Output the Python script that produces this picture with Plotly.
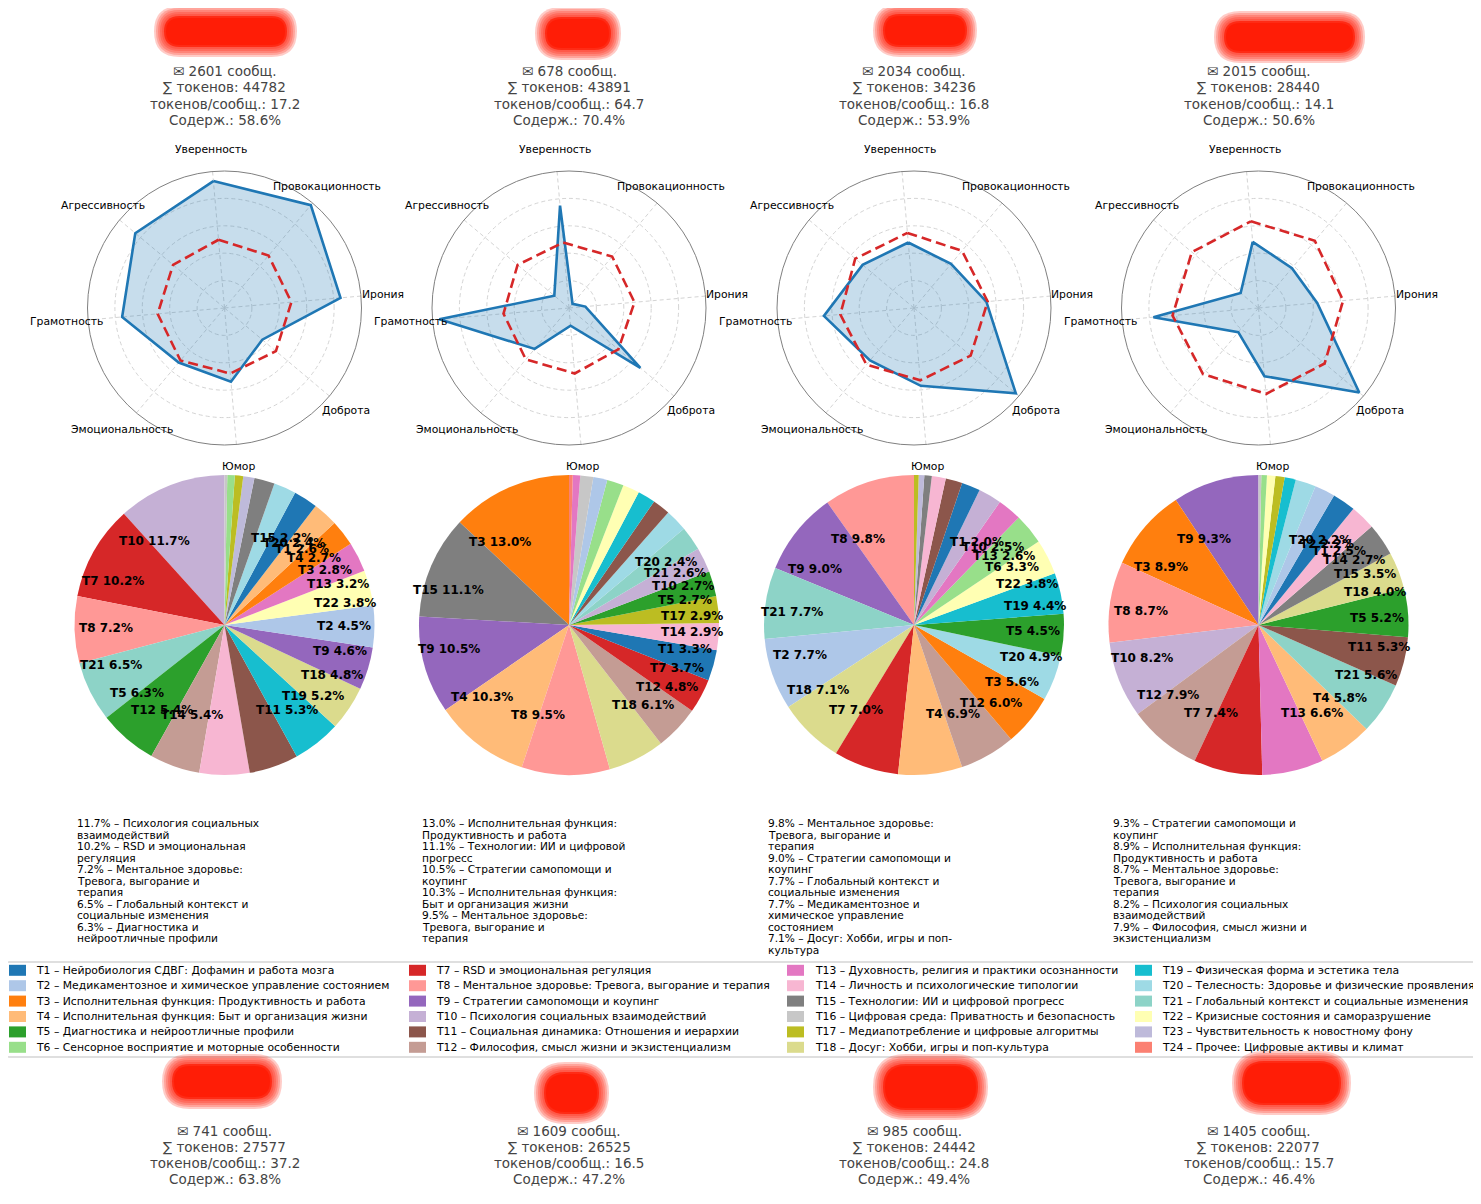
import math
import textwrap

import plotly.graph_objects as go

W, H = 1481, 1204
# the page body adds an 8px margin; the pixel axes below absorb it
OX, OY = 8, 8
FONT = 'DejaVu Sans'

# ---- data -----------------------------------------------------------------

AXES = ['Уверенность', 'Провокационность', 'Ирония', 'Доброта',
        'Юмор', 'Эмоциональность', 'Грамотность', 'Агрессивность']

TOPIC_NAMES = [
    'Нейробиология СДВГ: Дофамин и работа мозга',
    'Медикаментозное и химическое управление состоянием',
    'Исполнительная функция: Продуктивность и работа',
    'Исполнительная функция: Быт и организация жизни',
    'Диагностика и нейроотличные профили',
    'Сенсорное восприятие и моторные особенности',
    'RSD и эмоциональная регуляция',
    'Ментальное здоровье: Тревога, выгорание и терапия',
    'Стратегии самопомощи и коупинг',
    'Психология социальных взаимодействий',
    'Социальная динамика: Отношения и иерархии',
    'Философия, смысл жизни и экзистенциализм',
    'Духовность, религия и практики осознанности',
    'Личность и психологические типологии',
    'Технологии: ИИ и цифровой прогресс',
    'Цифровая среда: Приватность и безопасность',
    'Медиапотребление и цифровые алгоритмы',
    'Досуг: Хобби, игры и поп-культура',
    'Физическая форма и эстетика тела',
    'Телесность: Здоровье и физические проявления',
    'Глобальный контекст и социальные изменения',
    'Кризисные состояния и саморазрушение',
    'Чувствительность к новостному фону',
    'Прочее: Цифровые активы и климат',
]

TOPIC_COLORS = [
    '#1f77b4', '#aec7e8', '#ff7f0e', '#ffbb78', '#2ca02c', '#98df8a',
    '#d62728', '#ff9896', '#9467bd', '#c5b0d5', '#8c564b', '#c49c94',
    '#e377c2', '#f7b6d2', '#7f7f7f', '#c7c7c7', '#bcbd22', '#dbdb8d',
    '#17becf', '#9edae5', '#8dd3c7', '#ffffb3', '#bebada', '#fb8072',
]

msgs_top = [2601, 678, 2034, 2015]
tokens_top = [44782, 43891, 34236, 28440]
content_top = [58.6, 70.4, 53.9, 50.6]

msgs_bottom = [741, 1609, 985, 1405]
tokens_bottom = [27577, 26525, 24442, 22077]
content_bottom = [63.8, 47.2, 49.4, 46.4]

radar_user_1 = [0.93, 0.98, 0.85, 0.36, 0.54, 0.52, 0.75, 0.85]
radar_avg_1 = [0.50, 0.50, 0.49, 0.49, 0.48, 0.50, 0.49, 0.49]
radar_user_2 = [0.75, 0.04, 0.12, 0.68, 0.13, 0.39, 0.95, 0.14]
radar_avg_2 = [0.48, 0.49, 0.48, 0.47, 0.48, 0.49, 0.48, 0.49]
radar_user_3 = [0.48, 0.42, 0.53, 0.97, 0.57, 0.50, 0.66, 0.49]
radar_avg_3 = [0.55, 0.545, 0.54, 0.54, 0.53, 0.54, 0.54, 0.56]
radar_user_4 = [0.485, 0.38, 0.43, 0.96, 0.50, 0.23, 0.77, 0.17]
radar_avg_4 = [0.635, 0.64, 0.62, 0.63, 0.63, 0.63, 0.63, 0.635]

pie_topics_1 = [10, 7, 8, 21, 5, 12, 14, 11, 19, 18, 9, 2, 22, 13, 3, 4, 1,
                20, 15, 23, 17, 6, 16]
pie_shares_1 = [11.7, 10.2, 7.2, 6.5, 6.3, 5.4, 5.4, 5.3, 5.2, 4.8, 4.6, 4.5,
                3.8, 3.2, 2.8, 2.7, 2.6, 2.4, 2.2, 1.2, 0.9, 0.8, 0.3]
pie_topics_2 = [3, 15, 9, 4, 8, 18, 12, 7, 1, 14, 17, 5, 10, 21, 20, 11, 19,
                22, 6, 2, 16, 13, 24]
pie_shares_2 = [13.0, 11.1, 10.5, 10.3, 9.5, 6.1, 4.8, 3.7, 3.3, 2.9, 2.9, 2.7,
                2.7, 2.6, 2.4, 1.9, 1.9, 1.8, 1.8, 1.5, 1.4, 0.8, 0.4]
pie_topics_3 = [8, 9, 21, 2, 18, 7, 4, 12, 3, 20, 5, 19, 22, 6, 13, 10, 1, 11,
                14, 15, 23, 17]
pie_shares_3 = [9.8, 9.0, 7.7, 7.7, 7.1, 7.0, 6.9, 6.0, 5.6, 4.9, 4.5, 4.4,
                3.8, 3.3, 2.6, 2.5, 2.0, 1.8, 1.5, 0.8, 0.6, 0.5]
pie_topics_4 = [9, 3, 8, 10, 12, 7, 13, 4, 21, 11, 5, 18, 15, 14, 1, 2, 20, 19,
                17, 22, 6, 16]
pie_shares_4 = [9.3, 8.9, 8.7, 8.2, 7.9, 7.4, 6.6, 5.8, 5.6, 5.3, 5.2, 4.0,
                3.5, 2.7, 2.5, 2.2, 2.2, 1.2, 1.0, 0.9, 0.6, 0.3]

radars = [(radar_user_1, radar_avg_1), (radar_user_2, radar_avg_2),
          (radar_user_3, radar_avg_3), (radar_user_4, radar_avg_4)]
pies = [(pie_topics_1, pie_shares_1), (pie_topics_2, pie_shares_2),
        (pie_topics_3, pie_shares_3), (pie_topics_4, pie_shares_4)]

# ---- layout constants (pixels) --------------------------------------------

COL_CX = [224.5, 569, 914, 1258.5]
RADAR_CY, RADAR_R = 308, 137
RADAR_ROT = 95          # angle of the first axis, degrees
PIE_CY, PIE_R = 625, 150
LIST_X = [76, 421, 767, 1112]

fig = go.Figure()
annotations = []
shapes = []
layout = {}


def dom_x(a, b):
    return [(a - OX) / W, (b - OX) / W]


def dom_y(top, bottom):
    return [1 - (bottom - OY) / H, 1 - (top - OY) / H]


def text(x, y, s, size, color='black', anchor='center'):
    annotations.append(dict(
        x=x, y=y, xref='x', yref='y', text=s, showarrow=False,
        xanchor=anchor, yanchor='middle',
        font=dict(family=FONT, size=size, color=color)))


def stats_block(cx, y0, m, t, c):
    lines = [f'✉ {m} сообщ.', f'∑ токенов: {t}',
             f'токенов/сообщ.: {t / m:.1f}', f'Содерж.: {c:.1f}%']
    for k, s in enumerate(lines):
        text(cx, y0 + k * 16.3, s, 13.5, '#444444')


def rounded(a0, b0, a1, b1, r):
    return (f'M{a0 + r},{b0} L{a1 - r},{b0} Q{a1},{b0} {a1},{b0 + r} '
            f'L{a1},{b1 - r} Q{a1},{b1} {a1 - r},{b1} L{a0 + r},{b1} '
            f'Q{a0},{b1} {a0},{b1 - r} L{a0},{b0 + r} '
            f'Q{a0},{b0} {a0 + r},{b0} Z')


def blob(x0, y0, x1, y1):
    # soft redaction blot over the user name
    for pad in (10, 8, 6, 4, 2, 0, -2):
        a0, b0, a1, b1 = x0 - pad, y0 - pad, x1 + pad, y1 + pad
        r = (b1 - b0) / 2
        shapes.append(dict(type='path', path=rounded(a0, b0, a1, b1, r),
                           xref='x', yref='y', fillcolor='#ff1800',
                           opacity=0.22 if pad > 0 else 0.7,
                           line=dict(width=0)))


for i in range(4):
    cx = COL_CX[i]

    # radar
    user, avg = radars[i]
    pid = 'polar' if i == 0 else f'polar{i + 1}'
    theta = AXES + AXES[:1]
    fig.add_trace(go.Scatterpolar(
        r=user + user[:1], theta=theta, subplot=pid, mode='lines',
        line=dict(color='#1f77b4', width=2.6), fill='toself',
        fillcolor='rgba(31,119,180,0.25)', showlegend=False))
    fig.add_trace(go.Scatterpolar(
        r=avg + avg[:1], theta=theta, subplot=pid, mode='lines',
        line=dict(color='#d62728', width=2.6, dash='10px,5px'),
        showlegend=False))
    layout[pid] = dict(
        domain=dict(x=dom_x(cx - RADAR_R, cx + RADAR_R),
                    y=dom_y(RADAR_CY - RADAR_R, RADAR_CY + RADAR_R)),
        bgcolor='white',
        radialaxis=dict(range=[0, 1], tickvals=[0.2, 0.4, 0.6, 0.8],
                        showticklabels=False, ticks='', showline=False,
                        gridcolor='#d4d4d4', griddash='4px,3px'),
        angularaxis=dict(rotation=RADAR_ROT, direction='clockwise',
                         categoryorder='array', categoryarray=AXES,
                         showline=True, linecolor='#808080', linewidth=1,
                         gridcolor='#d4d4d4', griddash='4px,3px',
                         ticks='', showticklabels=False))
    # axis names centred just outside the ring
    for k, name in enumerate(AXES):
        ang = math.radians(RADAR_ROT - 360 * k / len(AXES))
        text(cx + 1.16 * RADAR_R * math.cos(ang),
             RADAR_CY - 1.16 * RADAR_R * math.sin(ang), name, 10.8)

    # pie: first slice starts at 12 o'clock, then counter-clockwise
    topics, shares = pies[i]
    total = sum(shares)
    fig.add_trace(go.Pie(
        labels=[f'T{t}' for t in topics], values=shares,
        marker=dict(colors=[TOPIC_COLORS[t - 1] for t in topics],
                    line=dict(width=0)),
        sort=False, direction='counterclockwise',
        rotation=-360 * shares[0] / total,
        textinfo='none', showlegend=False,
        domain=dict(x=dom_x(cx - PIE_R, cx + PIE_R),
                    y=dom_y(PIE_CY - PIE_R, PIE_CY + PIE_R))))

    cum = 0.0
    for t, s in zip(topics, shares):
        mid = math.radians(90 + 360 * (cum + s / 2) / total)
        cum += s
        if s < 2.0:
            continue
        x = cx + 0.6 * PIE_R * math.cos(mid)
        y = PIE_CY - 0.6 * PIE_R * math.sin(mid)
        text(x, y, f'<b>T{t} {s:.1f}%</b>', 12, 'black',
             'left' if math.cos(mid) > 0 else 'right')

    # top-5 topics list
    lines = []
    for t, s in list(zip(topics, shares))[:5]:
        parts = textwrap.wrap(TOPIC_NAMES[t - 1], 25)
        parts[0] = f'{s:.1f}% – {parts[0]}'
        lines += parts
    for k, s in enumerate(lines):
        text(LIST_X[i] - 1, 823 + k * 11.5, s, 10.6, 'black', 'left')

    stats_block(cx, 71, msgs_top[i], tokens_top[i], content_top[i])
    stats_block(cx, 1130.5, msgs_bottom[i], tokens_bottom[i],
                content_bottom[i])

# legend (4 columns x 6 rows)
LEG_SWATCH_X = [9, 409, 787, 1135]
LEG_TEXT_X = [35, 435, 814, 1161]
LEG_Y0, LEG_DY = 970.3, 15.4
leg_x, leg_y = [], []
for idx, name in enumerate(TOPIC_NAMES):
    col, row = divmod(idx, 6)
    y = LEG_Y0 + row * LEG_DY
    leg_x.append(LEG_SWATCH_X[col])
    leg_y.append(y)
    text(LEG_TEXT_X[col] - 1, y, f'T{idx + 1} – {name}', 10.8, 'black',
         'left')
fig.add_trace(go.Bar(
    orientation='h', base=leg_x, x=[17] * len(leg_x), y=leg_y, width=11,
    marker=dict(color=TOPIC_COLORS, line=dict(width=0)),
    showlegend=False, hoverinfo='skip'))
shapes.append(dict(type='path', path=rounded(6, 962, 1477, 1057, 3),
                   xref='x', yref='y', line=dict(color='#d5d5d5', width=1.3),
                   layer='below'))

# redaction blots
for box in [(164, 16, 287, 47), (545, 17, 611, 50), (883, 14, 967, 47),
            (1224, 21, 1355, 53), (172, 1064, 272, 1099),
            (544, 1072, 599, 1114), (883, 1064, 978, 1110),
            (1242, 1061, 1341, 1105)]:
    blob(*box)
shapes.append(dict(type='line', xref='x', yref='y', x0=805, x1=1045,
                   y0=6, y1=6, line=dict(color='rgba(200,200,200,0.6)',
                                         width=3)))

fig.update_layout(
    width=W, height=H, margin=dict(l=0, r=0, t=0, b=0),
    paper_bgcolor='white', plot_bgcolor='rgba(0,0,0,0)',
    font=dict(family=FONT),
    xaxis=dict(range=[OX, OX + W], visible=False, fixedrange=True,
               domain=[0, 1]),
    yaxis=dict(range=[OY + H, OY], visible=False, fixedrange=True,
               domain=[0, 1]),
    annotations=annotations, shapes=shapes, showlegend=False,
    **layout)

fig.write_html('out.html')
